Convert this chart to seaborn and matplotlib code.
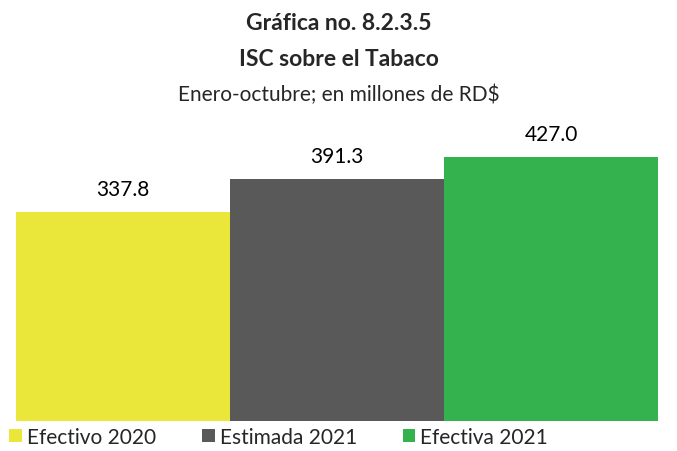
import matplotlib
matplotlib.use("Agg")
import matplotlib.pyplot as plt
import seaborn as sns
import pandas as pd
from matplotlib.patches import Patch

categories = ["Efectivo 2020", "Estimada 2021", "Efectiva 2021"]
values = [337.8, 391.3, 427.0]
colors = ["#EBE63A", "#595959", "#33B24D"]

title_lines = ["Gráfica no. 8.2.3.5", "ISC sobre el Tabaco"]
subtitle = "Enero-octubre; en millones de RD$"

sns.set_theme(style="white")
plt.rcParams["font.family"] = ["Lato", "DejaVu Sans"]

df = pd.DataFrame({"cat": categories, "val": values})

fig = plt.figure(figsize=(6.77, 4.52), dpi=100)
ax = fig.add_axes([16 / 677, 30 / 452, (658 - 16) / 677, 0.63])

sns.barplot(data=df, x="cat", y="val", hue="cat", palette=colors,
            width=1.0, dodge=False, legend=False, ax=ax, saturation=1,
            linewidth=0, edgecolor="none")

ax.set_xlim(-0.5, 2.5)
ax.set_ylim(0, 460)
ax.set_axis_off()

for i, v in enumerate(values):
    ax.annotate(f"{v:.1f}", (i, v), xytext=(0, 9), textcoords="offset points",
                ha="center", va="bottom", fontsize=15, color="#000000")

fig.text(0.5, 1 - 24 / 452, title_lines[0], ha="center", va="center",
         fontsize=16.5, fontweight="bold")
fig.text(0.5, 1 - 60 / 452, title_lines[1], ha="center", va="center",
         fontsize=16.5, fontweight="bold")
fig.text(0.5, 1 - 95 / 452, subtitle, ha="center", va="center", fontsize=15)

handles = [Patch(facecolor=c, edgecolor="none") for c in colors]
fig.legend(handles, categories, loc="center left", bbox_to_anchor=(1 / 677, 1 - 438 / 452),
           ncol=3, frameon=False, fontsize=15, handlelength=0.6, handleheight=0.6,
           handletextpad=0.25, columnspacing=2.2, borderaxespad=0)

fig.savefig("out.png", dpi=100, facecolor="white")
